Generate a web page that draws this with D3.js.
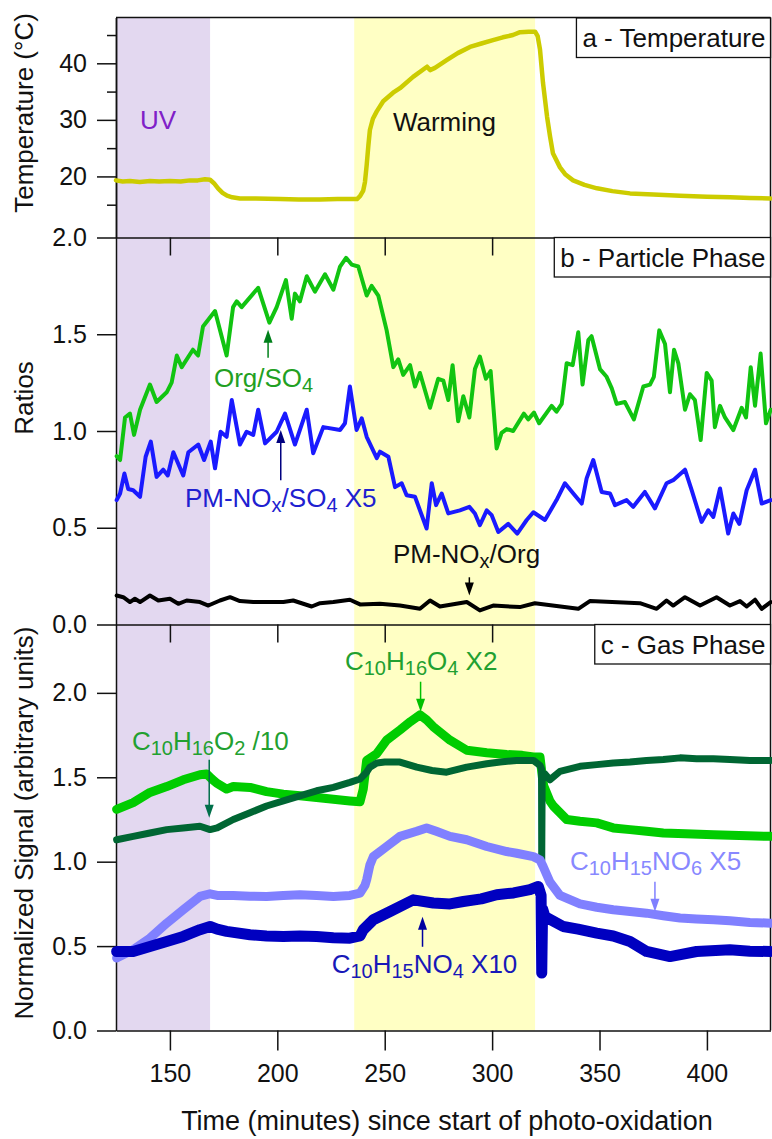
<!DOCTYPE html>
<html>
<head>
<meta charset="utf-8">
<script src="https://cdn.jsdelivr.net/npm/d3@7"></script>
<style>
  body { margin: 0; background: #fff; }
  svg { display: block; font-family: "Liberation Sans", Arial, sans-serif; }
  .axis path, .axis line { stroke: #111; stroke-width: 1.5; }
  .axis text { font-size: 25px; fill: #111; font-family: "Liberation Sans", Arial, sans-serif; }
  .trace { fill: none; stroke-linejoin: round; stroke-linecap: round; }
</style>
</head>
<body>
<div id="chart"></div>
<script>
// ---- data (time in minutes since start of photo-oxidation) ----
var timeDomain = [124.9, 429.6];
var uvBand = [124.9, 168.7];
var warmBand = [235.8, 320.0];
var timeTicks = [150, 200, 250, 300, 350, 400];

var tempTicks = [20, 30, 40];
var tempMinor = [15, 25, 35, 45];
var ratioTicks = [0, 0.5, 1.0, 1.5, 2.0];
var gasTicks = [0, 0.5, 1.0, 1.5, 2.0];

var temperature = [[124.9,19.3],[128,19.1],[131.4,19.2],[136,19.0],[140.7,19.2],[145,19.1],[150,19.2],[155,19.1],[159.3,19.3],[163,19.3],[166.3,19.5],[168.7,19.4],[170.5,18.8],[172.4,17.9],[174.5,17.1],[176.6,16.6],[179,16.3],[182.6,16.1],[190,16.1],[201.3,16.0],[210,15.9],[219.9,15.9],[228,16.0],[237.1,16.0],[238.5,16.5],[240,17.5],[240.8,19],[241.6,22],[242.4,25.5],[243.1,28.2],[244.5,30.2],[246.3,31.5],[249.3,33.3],[253.9,34.8],[257.1,35.6],[263.2,37.6],[269.7,39.4],[271.1,38.8],[273.4,39.2],[279.0,40.6],[284,41.8],[289.7,42.9],[295,43.5],[300.4,44.1],[305,44.6],[309.7,45.0],[313.0,45.5],[317,45.6],[320.0,45.6],[321.2,44.8],[322.3,42.4],[323.7,36.5],[325.6,30.5],[327,27],[328.3,24.1],[331.6,21.6],[334,20.4],[337.7,19.3],[343,18.5],[348.8,17.9],[356,17.4],[364.2,17.0],[375,16.8],[387.5,16.6],[400,16.4],[410.8,16.3],[420,16.2],[429.6,16.1]];

var orgSO4 = [[125.2,0.87],[126.8,0.85],[129.1,1.07],[131.4,1.09],[133.3,0.98],[136.1,1.11],[140.7,1.24],[143.8,1.15],[148.5,1.20],[150.8,1.25],[153.2,1.39],[155.5,1.33],[160.7,1.42],[163.1,1.39],[165.4,1.54],[171.0,1.62],[176.4,1.39],[179.4,1.64],[181.1,1.67],[183.4,1.64],[191.1,1.74],[196.3,1.56],[199.7,1.64],[204.0,1.78],[206.7,1.58],[208.2,1.71],[210.5,1.67],[213.7,1.80],[217.5,1.72],[222.2,1.81],[226.1,1.73],[229.2,1.85],[232.0,1.895],[234.6,1.86],[237.7,1.85],[241.6,1.70],[243.9,1.75],[247.0,1.70],[250.9,1.52],[254.0,1.33],[256.3,1.37],[258.6,1.29],[261.8,1.34],[264.1,1.23],[266.4,1.30],[271.1,1.12],[274.9,1.27],[277.3,1.26],[279.6,1.16],[281.6,1.34],[284.2,1.05],[286.6,1.18],[289.4,1.07],[292.0,1.32],[294.3,1.385],[297.1,1.27],[299.3,1.31],[302.1,0.91],[304.4,0.99],[306.8,1.01],[309.8,1.00],[314.8,1.09],[316.8,1.06],[319.5,1.095],[321.9,1.04],[327.7,1.13],[330.0,1.10],[332.4,1.14],[334.7,1.35],[337.5,1.34],[340.1,1.51],[342.1,1.24],[344.8,1.47],[346.3,1.49],[350.2,1.32],[353.3,1.28],[355.7,1.22],[358.0,1.14],[361.8,1.15],[366.0,1.06],[370.4,1.23],[373.5,1.24],[375.3,1.28],[377.8,1.52],[380.5,1.45],[382.8,1.20],[384.7,1.42],[386.7,1.35],[389.8,1.11],[392.1,1.19],[394.4,1.16],[397.1,0.953],[399.9,1.30],[402.2,1.26],[403.7,1.02],[406.1,1.13],[408.4,1.07],[412.3,1.005],[416.2,1.12],[418.2,1.07],[420.4,1.33],[422.4,1.13],[425.0,1.40],[427.5,1.04],[429.7,1.11]];

var pmNOxSO4 = [[125.2,0.643],[126.8,0.677],[128.8,0.78],[130.6,0.70],[132.9,0.694],[136.1,0.66],[138.7,0.867],[141.1,0.945],[143.8,0.763],[146.9,0.80],[149.0,0.77],[151.6,0.89],[156.2,0.77],[158.6,0.89],[163.2,0.93],[165.9,0.85],[169.0,0.945],[171.0,0.807],[173.6,0.996],[176.4,0.97],[178.8,1.16],[182.6,0.93],[185.7,0.996],[188.8,0.98],[191.1,1.11],[194.3,0.936],[199.7,0.996],[203.6,1.09],[208.2,0.93],[213.7,1.11],[216.7,0.885],[221.4,1.02],[229.2,1.005],[231.5,1.04],[233.8,1.23],[236.9,1.005],[239.3,1.066],[241.6,0.97],[246.3,0.86],[247.8,0.893],[251.7,0.867],[254.8,0.71],[257.9,0.73],[260.2,0.668],[264.1,0.66],[269.5,0.496],[271.9,0.73],[273.9,0.617],[276.5,0.677],[279.6,0.574],[285.0,0.59],[289.4,0.608],[292.0,0.574],[294.3,0.513],[297.5,0.59],[299.8,0.565],[302.9,0.478],[307.5,0.52],[311.7,0.47],[316.1,0.54],[319.2,0.58],[324.6,0.54],[330.0,0.643],[333.9,0.73],[337.8,0.677],[341.7,0.625],[344.0,0.755],[347.1,0.85],[351.0,0.685],[354.9,0.677],[357.2,0.617],[362.6,0.643],[365.7,0.608],[371.1,0.685],[375.8,0.60],[381.2,0.73],[384.3,0.746],[389.8,0.80],[392.9,0.694],[397.5,0.53],[400.6,0.59],[403.0,0.556],[406.1,0.703],[409.9,0.47],[412.3,0.574],[415.1,0.52],[418.5,0.694],[422.4,0.80],[425.5,0.625],[429.7,0.643]];

var pmNOxOrg = [[125.2,0.150],[128.3,0.141],[131.4,0.116],[133.7,0.133],[136.1,0.116],[140.7,0.150],[144.6,0.124],[150.0,0.133],[153.9,0.107],[157.8,0.124],[164.0,0.116],[167.9,0.098],[173.3,0.124],[178.0,0.141],[182.6,0.121],[188.8,0.116],[202.8,0.116],[207.4,0.124],[216.0,0.093],[219.9,0.110],[226.1,0.116],[233.8,0.128],[238.5,0.104],[247.8,0.107],[257.1,0.098],[266.4,0.081],[271.1,0.124],[275.7,0.093],[288.2,0.116],[294.3,0.073],[300.5,0.098],[312.9,0.090],[319.9,0.110],[340.1,0.081],[345.5,0.121],[368.8,0.110],[376.6,0.081],[381.2,0.124],[384.3,0.098],[389.8,0.141],[396.8,0.098],[404.5,0.141],[410.7,0.098],[415.4,0.121],[418.5,0.093],[422.4,0.128],[425.5,0.081],[429.7,0.116]];

var c10h16o2 = [[125.2,1.13],[132.9,1.15],[140.7,1.17],[148.5,1.19],[156.2,1.20],[164.0,1.21],[168.7,1.19],[172,1.20],[179.5,1.25],[187.3,1.29],[195.0,1.33],[202.8,1.36],[210.5,1.39],[218.3,1.42],[226.1,1.44],[233.8,1.47],[238.5,1.49],[241.6,1.53],[243.1,1.56],[246.3,1.585],[250,1.59],[257.1,1.59],[264.9,1.56],[272,1.54],[278.8,1.53],[288.2,1.56],[297.5,1.58],[303.7,1.59],[311.4,1.60],[319.2,1.60],[322.3,1.57],[323.0,1.55],[323.1,1.01],[323.3,1.50],[324.6,1.52],[326.9,1.485],[331.6,1.535],[340.9,1.565],[348.7,1.575],[356.4,1.585],[364.2,1.59],[371.9,1.60],[379.7,1.605],[387.5,1.615],[395.2,1.61],[403.0,1.61],[410.7,1.605],[420,1.60],[429.7,1.60]];

var c10h16o4 = [[125.2,1.31],[132.9,1.35],[140.7,1.41],[148.5,1.445],[156.2,1.485],[164.0,1.515],[167.1,1.52],[169.5,1.49],[171.8,1.465],[176.4,1.43],[179.5,1.445],[187.3,1.44],[195.0,1.415],[202.8,1.40],[210.5,1.39],[218.3,1.38],[226.1,1.37],[233.8,1.36],[238.5,1.355],[240.0,1.43],[241.6,1.60],[246.3,1.64],[250.9,1.72],[257.1,1.78],[262,1.83],[266.4,1.87],[269.5,1.84],[272.6,1.80],[280.4,1.72],[288.2,1.66],[297.5,1.645],[306.8,1.635],[314,1.63],[319.2,1.62],[322.3,1.62],[323.4,1.50],[324.0,1.45],[326.9,1.36],[328.5,1.33],[334.7,1.25],[340.9,1.24],[348.7,1.23],[356.4,1.20],[364.2,1.19],[371.9,1.18],[379.7,1.17],[390,1.165],[403.0,1.16],[415,1.155],[429.7,1.15]];

var c10h15no6 = [[125.2,0.43],[132.9,0.478],[140.7,0.547],[148.5,0.636],[156.2,0.715],[164.0,0.794],[168.7,0.81],[172,0.80],[179.5,0.80],[187.3,0.795],[195.0,0.794],[202.8,0.80],[210.5,0.804],[218.3,0.80],[226.1,0.794],[233.8,0.80],[238.5,0.814],[240.8,0.86],[241.6,0.893],[243.1,0.98],[244.7,1.03],[250.9,1.09],[257.1,1.15],[264.9,1.18],[269.5,1.20],[274,1.18],[280.4,1.15],[288.2,1.13],[297.5,1.09],[306.8,1.06],[311.4,1.05],[319.2,1.03],[322.3,1.01],[323.8,0.97],[326.9,0.88],[331.6,0.80],[340.9,0.75],[348.7,0.73],[356.4,0.715],[364.2,0.705],[371.9,0.695],[379.7,0.68],[387.5,0.666],[395.2,0.66],[403.0,0.656],[410.7,0.65],[420,0.64],[429.7,0.636]];

var c10h15no4 = [[125.2,0.468],[132.9,0.468],[140.7,0.498],[148.5,0.527],[156.2,0.557],[164.0,0.597],[168.7,0.616],[172,0.60],[176.4,0.587],[187.3,0.567],[195.0,0.56],[202.8,0.557],[210.5,0.56],[218.3,0.557],[226.1,0.55],[233.8,0.547],[238.5,0.56],[240.0,0.597],[244.7,0.656],[252.5,0.705],[263.3,0.774],[272.6,0.755],[280.4,0.75],[286.6,0.764],[295,0.78],[302.1,0.804],[310,0.815],[317.6,0.834],[321.5,0.853],[322.8,0.80],[323.1,0.34],[323.5,0.72],[324.6,0.675],[333.1,0.616],[340,0.60],[348.7,0.577],[356.4,0.56],[364.2,0.527],[371.9,0.468],[382.8,0.438],[395.2,0.468],[410.7,0.478],[420,0.47],[429.7,0.468]];

// ---- layout ----
var W = 772, H = 1139;
var left = 116, right = 770.5;
var aTop = 17.5, aBot = 237.5, bBot = 624.5, cBot = 1030.5;

var svg = d3.select("#chart").append("svg")
    .attr("width", W)
    .attr("height", H);

var x = d3.scaleLinear().domain(timeDomain).range([left, right]);
var yA = d3.scaleLinear().domain([9.2, 48.1]).range([aBot, aTop]);
var yB = d3.scaleLinear().domain([0, 2.0]).range([bBot, aBot]);
var yC = d3.scaleLinear().domain([0, 2.405]).range([cBot, bBot]);

// shaded periods
svg.append("rect").attr("x", x(uvBand[0])).attr("y", aTop)
    .attr("width", x(uvBand[1]) - x(uvBand[0])).attr("height", cBot - aTop)
    .style("fill", "#e3d8f0");
svg.append("rect").attr("x", x(warmBand[0])).attr("y", aTop)
    .attr("width", x(warmBand[1]) - x(warmBand[0])).attr("height", cBot - aTop)
    .style("fill", "#ffffc4");

// left axes
svg.append("g").attr("class", "axis").attr("transform", "translate(" + left + ",0)")
    .call(d3.axisLeft(yA).tickValues(tempTicks).tickSize(19).tickPadding(10).tickSizeOuter(0));
svg.append("g").attr("class", "axis").attr("transform", "translate(" + left + ",0)")
    .call(d3.axisLeft(yA).tickValues(tempMinor).tickSize(9).tickFormat("").tickSizeOuter(0));
svg.append("g").attr("class", "axis").attr("transform", "translate(" + left + ",0)")
    .call(d3.axisLeft(yB).tickValues(ratioTicks).tickSize(19).tickPadding(10).tickFormat(d3.format(".1f")).tickSizeOuter(0));
svg.append("g").attr("class", "axis").attr("transform", "translate(" + left + ",0)")
    .call(d3.axisLeft(yC).tickValues(gasTicks).tickSize(19).tickPadding(10).tickFormat(d3.format(".1f")).tickSizeOuter(0));

// bottom axis
svg.append("g").attr("class", "axis").attr("transform", "translate(0," + cBot + ")")
    .call(d3.axisBottom(x).tickValues(timeTicks).tickSize(20).tickPadding(14).tickSizeOuter(0));

// inner ticks at top of panels b and c
[aBot, bBot].forEach(function(yy){
    svg.append("g").attr("class", "axis").attr("transform", "translate(0," + yy + ")")
        .call(d3.axisBottom(x).tickValues(timeTicks).tickSize(18).tickFormat("").tickSizeOuter(0));
});

// frame lines
svg.append("line").attr("x1", left).attr("x2", right).attr("y1", aTop).attr("y2", aTop)
    .style("stroke", "#111").style("stroke-width", 1.5);
svg.append("line").attr("x1", right).attr("x2", right).attr("y1", aTop).attr("y2", cBot)
    .style("stroke", "#111").style("stroke-width", 1.5);

// traces
function drawTrace(data, yScale, color, width){
    var line = d3.line()
        .x(function(d){ return x(d[0]); })
        .y(function(d){ return yScale(d[1]); });
    svg.append("path").datum(data).attr("class", "trace")
        .attr("d", line)
        .style("stroke", color)
        .style("stroke-width", width);
}

drawTrace(temperature, yA, "#cccc00", 4.5);

drawTrace(orgSO4, yB, "#11c411", 4);
drawTrace(pmNOxSO4, yB, "#1a1aff", 4);
drawTrace(pmNOxOrg, yB, "#000", 4);

drawTrace(c10h16o4, yC, "#00cc00", 9);
drawTrace(c10h16o2, yC, "#006633", 7);
drawTrace(c10h15no6, yC, "#8080ff", 9);
drawTrace(c10h15no4, yC, "#0000c0", 11);

// labels with subscripts
function label(tx, ty, parts, color, anchor){
    var t = svg.append("text").attr("x", tx).attr("y", ty)
        .style("font-size", "26px").style("fill", color)
        .attr("text-anchor", anchor || "start");
    var sub = false;
    parts.forEach(function(p){
        var isSub = p.charAt(0) == "_";
        var s = t.append("tspan").text(isSub ? p.slice(1) : p);
        if (isSub && !sub) s.attr("dy", 5);
        if (!isSub && sub) s.attr("dy", -5);
        if (isSub) s.style("font-size", "20px");
        sub = isSub;
    });
    return t;
}

function arrow(t, v0, v1, yScale, color){
    var xx = x(t), ya = yScale(v0), yb = yScale(v1);
    var dir = yb > ya ? 1 : -1;
    svg.append("line").attr("x1", xx).attr("x2", xx).attr("y1", ya).attr("y2", yb - dir * 10)
        .style("stroke", color).style("stroke-width", 1.5);
    svg.append("path")
        .attr("d", "M" + xx + "," + yb + " L" + (xx - 4.5) + "," + (yb - dir * 13) + " L" + (xx + 4.5) + "," + (yb - dir * 13) + " Z")
        .style("fill", color);
}

label(x(144.5), yA(28.3), ["UV"], "#8020c8", "middle");
label(x(253.8), yA(28.0), ["Warming"], "#111");

label(x(170.5), yB(1.228), ["Org/SO", "_4"], "#22a022");
arrow(195.7, 1.378, 1.523, yB, "#00801a");
label(x(157.0), yB(0.606), ["PM-NO", "_x", "/SO", "_4", " X5"], "#2020d0");
arrow(201.6, 0.746, 1.005, yB, "#000080");
label(x(253.8), yB(0.316), ["PM-NO", "_x", "/Org"], "#111");
arrow(289.4, 0.244, 0.150, yB, "#000");

label(x(231.5), yC(2.137), ["C", "_10", "H", "_16", "O", "_4", " X2"], "#22a030");
arrow(266.7, 2.066, 1.888, yC, "#00c000");
label(x(132.3), yC(1.663), ["C", "_10", "H", "_16", "O", "_2", " /10"], "#22a030");
arrow(168.3, 1.604, 1.26, yC, "#00704a");
label(x(336.2), yC(0.952), ["C", "_10", "H", "_15", "NO", "_6", " X5"], "#8888ff");
arrow(375.8, 0.881, 0.703, yC, "#8080ff");
label(x(225.3), yC(0.342), ["C", "_10", "H", "_15", "NO", "_4", " X10"], "#1818b8");
arrow(267.6, 0.496, 0.674, yC, "#0000a0");

// panel tags
function tag(txt, yTop){
    var t = svg.append("text").attr("x", right - 5).attr("y", yTop + 29)
        .attr("text-anchor", "end").style("font-size", "26px").style("fill", "#111").text(txt);
    var bb = t.node().getBBox();
    svg.insert("rect", function(){ return t.node(); })
        .attr("x", bb.x - 6).attr("y", yTop).attr("width", right - bb.x + 6).attr("height", 39.5)
        .style("fill", "#fff").style("stroke", "#111").style("stroke-width", 1.3);
}
tag("a - Temperature", aTop + 0.5);
tag("b - Particle Phase", aBot);
tag("c - Gas Phase", bBot);

// axis titles
function yTitle(txt, cy){
    svg.append("text").attr("transform", "translate(33," + cy + ") rotate(-90)")
        .attr("text-anchor", "middle").style("font-size", "26px").style("fill", "#111").text(txt);
}
yTitle("Temperature (\u00B0C)", 113);
yTitle("Ratios", 398);
yTitle("Normalized Signal (arbitrary units)", 823);

svg.append("text").attr("x", 447).attr("y", 1130)
    .attr("text-anchor", "middle").style("font-size", "27px").style("fill", "#111")
    .text("Time (minutes) since start of photo-oxidation");
</script>
</body>
</html>
